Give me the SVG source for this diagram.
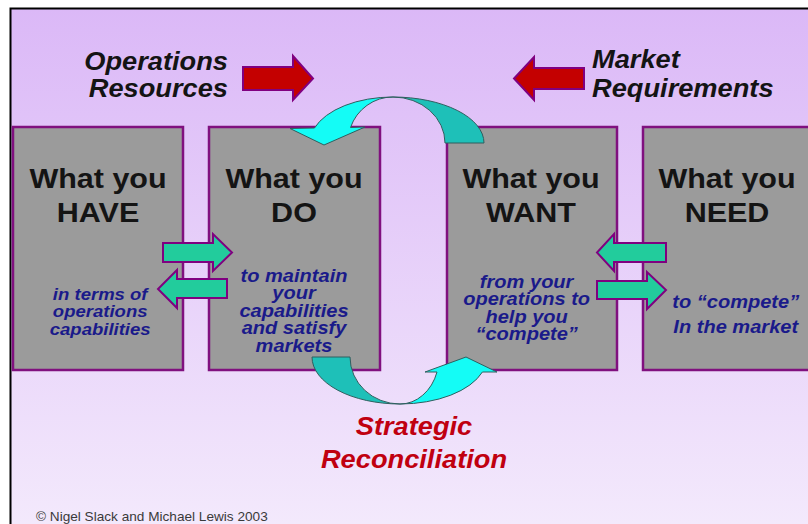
<svg xmlns="http://www.w3.org/2000/svg" width="808" height="524" viewBox="0 0 808 524">
<defs>
<linearGradient id="bg" x1="0" y1="8" x2="0" y2="524" gradientUnits="userSpaceOnUse">
<stop offset="0" stop-color="#dbb8f7"/>
<stop offset="1" stop-color="#f3e9fc"/>
</linearGradient>
</defs>
<style>
.box{fill:#9b9b9b;stroke:#80107f;stroke-width:2.5}
.big{font-family:"Liberation Sans",Arial,sans-serif;font-weight:bold;font-size:28px;fill:#141414;text-anchor:middle}
.sub{font-family:"Liberation Sans",Arial,sans-serif;font-weight:bold;font-style:italic;font-size:18.4px;fill:#1a1a8a;text-anchor:middle}
.ttl{font-family:"Liberation Sans",Arial,sans-serif;font-weight:bold;font-style:italic;font-size:25px;fill:#141414}
.red{fill:#c40000;stroke:#800080;stroke-width:2}
.grn{fill:#22cc9c;stroke:#800080;stroke-width:2}
.teal{fill:#1ec0b8;stroke:#2f5f5f;stroke-width:1}
.cyan{fill:#14fcf6;stroke:#2f5f5f;stroke-width:1}
</style>
<rect x="0" y="0" width="808" height="524" fill="#ffffff"/>
<rect x="10.5" y="8.5" width="820" height="540" fill="url(#bg)" stroke="#000" stroke-width="2"/>

<g id="node-have">
<rect class="box" x="13" y="127" width="170" height="243"/>
<g transform="translate(98 0) scale(1.09 1)">
<text class="big" x="0" y="188">What you</text>
<text class="big" x="0" y="222">HAVE</text>
<text class="sub" x="2" y="300" style="font-size:17px">in terms of</text>
<text class="sub" x="2" y="317.5" style="font-size:17px">operations</text>
<text class="sub" x="2" y="335" style="font-size:17px">capabilities</text>
</g>
</g>

<g id="node-do">
<rect class="box" x="209" y="127" width="171" height="243"/>
<g transform="translate(294 0) scale(1.09 1)">
<text class="big" x="0" y="188">What you</text>
<text class="big" x="0" y="222">DO</text>
<text class="sub" x="0" y="282">to maintain</text>
<text class="sub" x="0" y="299.5">your</text>
<text class="sub" x="0" y="317">capabilities</text>
<text class="sub" x="0" y="334.5">and satisfy</text>
<text class="sub" x="0" y="352">markets</text>
</g>
</g>

<g id="node-want">
<rect class="box" x="447" y="127" width="170" height="243"/>
<g transform="translate(531 0) scale(1.09 1)">
<text class="big" x="0" y="188">What you</text>
<text class="big" x="0" y="222">WANT</text>
<text class="sub" x="-4" y="288">from your</text>
<text class="sub" x="-4" y="305.5">operations to</text>
<text class="sub" x="-4" y="323">help you</text>
<text class="sub" x="-4" y="340.5">“compete”</text>
</g>
</g>

<g id="node-need">
<rect class="box" x="643" y="127" width="176" height="243"/>
<g transform="translate(727 0) scale(1.09 1)">
<text class="big" x="0" y="188">What you</text>
<text class="big" x="0" y="222">NEED</text>
<text class="sub" x="8" y="308">to “compete”</text>
<text class="sub" x="8" y="333">In the market</text>
</g>
</g>

<g id="label-resources">
<g transform="translate(228 0) scale(1.09 1)">
<text class="ttl" x="0" y="70" text-anchor="end">Operations</text>
<text class="ttl" x="0" y="97" text-anchor="end">Resources</text>
</g>
</g>

<g id="label-market">
<g transform="translate(592 0) scale(1.09 1)">
<text class="ttl" x="0" y="68">Market</text>
<text class="ttl" x="0" y="97">Requirements</text>
</g>
</g>

<g id="label-reconciliation">
<g transform="translate(414 0) scale(1.09 1)">
<text class="ttl" x="0" y="435" text-anchor="middle" style="fill:#c00010">Strategic</text>
<text class="ttl" x="0" y="468" text-anchor="middle" style="fill:#c00010">Reconciliation</text>
</g>
</g>

<g id="connectors">
<path class="red" d="M243,67 L293,67 L293,56 L313,78.5 L293,100 L293,90 L243,90 Z"/>
<path class="red" d="M584,68 L534,68 L534,57 L514,78.5 L534,100 L534,89 L584,89 Z"/>

<path class="grn" d="M163,243 L213,243 L213,234 L232,252.5 L213,271 L213,262 L163,262 Z"/>
<path class="grn" d="M227,279 L177,279 L177,270 L158,289 L177,308 L177,298 L227,298 Z"/>
<path class="grn" d="M666,243 L614,243 L614,234 L597,252.5 L614,271 L614,262 L666,262 Z"/>
<path class="grn" d="M597,281 L647,281 L647,272 L666,290 L647,309 L647,299 L597,299 Z"/>

<path class="teal" d="M484,143 A91,46 0 0 0 393,97 A52,46 0 0 1 445,143 Z"/>
<path class="cyan" d="M393,97 A83,46 0 0 0 314.5,128 L290,128.5 L324,145 L365,127 L350.5,127.5 A45,46 0 0 1 393,97 Z"/>

<path class="teal" d="M312,357 A88,47 0 0 0 400,404 A50,47 0 0 1 350,357 Z"/>
<path class="cyan" d="M400,404 A87,47 0 0 0 482.4,372 L497,372 L466,357 L425,372 L437,372 A39,47 0 0 1 400,404 Z"/>
</g>

<text x="36" y="521" transform="translate(36 0) scale(1.09 1) translate(-36 0)" style="font-family:'Liberation Sans',Arial,sans-serif;font-size:12.5px;fill:#3a3a3a">© Nigel Slack and Michael Lewis 2003</text>
</svg>
